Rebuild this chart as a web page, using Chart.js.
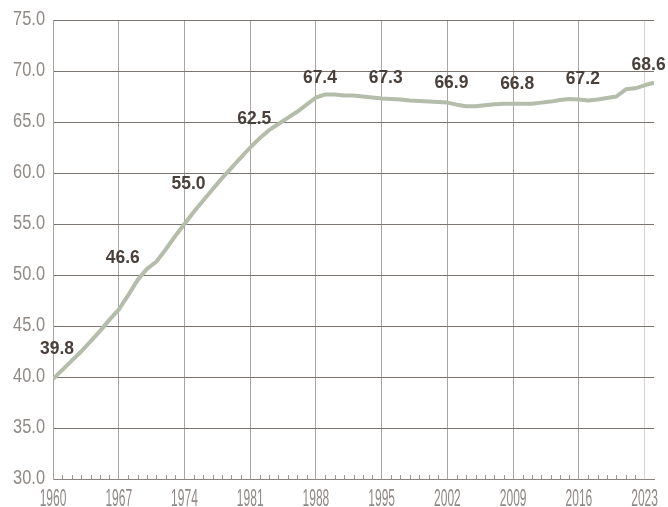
<!DOCTYPE html>
<html>
<head>
<meta charset="utf-8">
<title>Life expectancy, 1960–2024</title>
<script src="https://cdn.jsdelivr.net/npm/chart.js@4.4.1/dist/chart.umd.min.js"></script>
<style>
  html, body { margin: 0; padding: 0; background: #ffffff; }
  #wrap { width: 668px; height: 507px; position: relative; }
</style>
</head>
<body>
<div id="wrap"><canvas id="chart" width="668" height="507"></canvas></div>
<script>
// ---- data ----
const years = [
  1960, 1961, 1962, 1963, 1964, 1965, 1966, 1967, 1968, 1969,
  1970, 1971, 1972, 1973, 1974, 1975, 1976, 1977, 1978, 1979,
  1980, 1981, 1982, 1983, 1984, 1985, 1986, 1987, 1988, 1989,
  1990, 1991, 1992, 1993, 1994, 1995, 1996, 1997, 1998, 1999,
  2000, 2001, 2002, 2003, 2004, 2005, 2006, 2007, 2008, 2009,
  2010, 2011, 2012, 2013, 2014, 2015, 2016, 2017, 2018, 2019,
  2020, 2021, 2022, 2023, 2024
];
const lifeExpectancy = [
  39.8, 40.7, 41.6, 42.5, 43.5, 44.5, 45.6, 46.6, 48.0, 49.5,
  50.6, 51.3, 52.5, 53.8, 55.0, 56.2, 57.3, 58.4, 59.5, 60.5,
  61.5, 62.5, 63.4, 64.2, 64.8, 65.4, 66.0, 66.7, 67.4, 67.7,
  67.7, 67.6, 67.6, 67.5, 67.4, 67.3, 67.25, 67.2, 67.1, 67.05,
  67.0, 66.95, 66.9, 66.7, 66.55, 66.55, 66.65, 66.75, 66.8, 66.8,
  66.8, 66.8, 66.9, 67.0, 67.15, 67.25, 67.2, 67.1, 67.2, 67.35,
  67.5, 68.2, 68.3, 68.6, 68.85
];
const labelledYears = [1960, 1967, 1974, 1981, 1988, 1995, 2002, 2009, 2016, 2023];
const xTickYears = [1960, 1967, 1974, 1981, 1988, 1995, 2002, 2009, 2016, 2023];
const yTickValues = [30, 35, 40, 45, 50, 55, 60, 65, 70, 75];

// ---- styling ----
const SANS = '"Liberation Sans", Arial, sans-serif';
const LINE_COLOR = '#b4bda9';
const LABEL_COLOR = '#4a403b';
const TICK_COLOR = '#8f8a86';
// how far each value label sits above its point (px), in labelledYears order
const labelLift = [25, 47, 35, 24, 15, 16, 15, 15, 15.5, 15];

const points = years.map((y, i) => ({ x: y, y: lifeExpectancy[i] }));

// draws a string squeezed horizontally (condensed look)
function narrowText(ctx, text, x, y, squeeze) {
  ctx.save();
  ctx.translate(x, y);
  ctx.scale(squeeze, 1);
  ctx.fillText(text, 0, 0);
  ctx.restore();
}

// axis tick labels in a tall condensed face
const axisLabels = {
  id: 'axisLabels',
  afterDraw(chart) {
    const { x: sx, y: sy } = chart.scales;
    const ctx = chart.ctx;
    ctx.save();
    ctx.fillStyle = TICK_COLOR;
    ctx.textBaseline = 'alphabetic';

    ctx.font = '24px ' + SANS;
    ctx.textAlign = 'center';
    sx.ticks.forEach(t => {
      narrowText(ctx, String(t.value), sx.getPixelForValue(t.value), 506, 0.5);
    });

    ctx.font = '19.5px ' + SANS;
    ctx.textAlign = 'right';
    sy.ticks.forEach(t => {
      narrowText(ctx, Number(t.value).toFixed(1), sx.left - 8, sy.getPixelForValue(t.value) + 4.5, 0.84);
    });
    ctx.restore();
  }
};

// small yearly ticks standing on the bottom axis
const yearMinorTicks = {
  id: 'yearMinorTicks',
  beforeDatasetsDraw(chart) {
    const sx = chart.scales.x;
    const bottom = chart.chartArea.bottom;
    const ctx = chart.ctx;
    ctx.save();
    ctx.strokeStyle = '#9a9591';
    ctx.lineWidth = 1;
    ctx.beginPath();
    years.forEach(y => {
      if (xTickYears.includes(y) || y >= 2024) return;
      const px = Math.round(sx.getPixelForValue(y)) + 0.5;
      ctx.moveTo(px, bottom);
      ctx.lineTo(px, bottom - 4);
    });
    ctx.stroke();
    ctx.restore();
  }
};

// value labels above selected points
const valueLabels = {
  id: 'valueLabels',
  afterDatasetsDraw(chart) {
    const meta = chart.getDatasetMeta(0);
    const ctx = chart.ctx;
    ctx.save();
    ctx.fillStyle = LABEL_COLOR;
    ctx.font = 'bold 19px ' + SANS;
    ctx.textAlign = 'center';
    ctx.textBaseline = 'alphabetic';
    labelledYears.forEach((yr, k) => {
      const i = years.indexOf(yr);
      const el = meta.data[i];
      narrowText(ctx, lifeExpectancy[i].toFixed(1), el.x + 4, el.y - labelLift[k], 0.92);
    });
    ctx.restore();
  }
};

new Chart(document.getElementById('chart'), {
  type: 'line',
  data: {
    datasets: [{
      data: points,
      borderColor: LINE_COLOR,
      borderWidth: 4,
      pointRadius: 0,
      pointHoverRadius: 0,
      tension: 0,
      fill: false,
      borderJoinStyle: 'round'
    }]
  },
  options: {
    responsive: false,
    animation: false,
    events: [],
    layout: { padding: { top: 20, right: 14, left: 0, bottom: 0 } },
    plugins: { legend: { display: false }, tooltip: { enabled: false } },
    scales: {
      x: {
        type: 'linear',
        min: 1960,
        max: 2024,
        afterBuildTicks(scale) { scale.ticks = xTickYears.map(v => ({ value: v })); },
        afterFit(scale) { scale.height = 28; },
        ticks: { display: false },
        grid: {
          drawTicks: false,
          lineWidth: 1,
          color: c => (c.tick && c.tick.value === 2023) ? '#d9d2d1' : '#aaa5a2'
        },
        border: { color: '#8a8581', width: 1 }
      },
      y: {
        min: 30,
        max: 75,
        afterBuildTicks(scale) { scale.ticks = yTickValues.map(v => ({ value: v })); },
        afterFit(scale) { scale.width = 53; },
        ticks: { display: false },
        grid: { drawTicks: false, color: '#79746f', lineWidth: 1 },
        border: { color: '#a8a39f', width: 1 }
      }
    }
  },
  plugins: [yearMinorTicks, valueLabels, axisLabels]
});
</script>
</body>
</html>
